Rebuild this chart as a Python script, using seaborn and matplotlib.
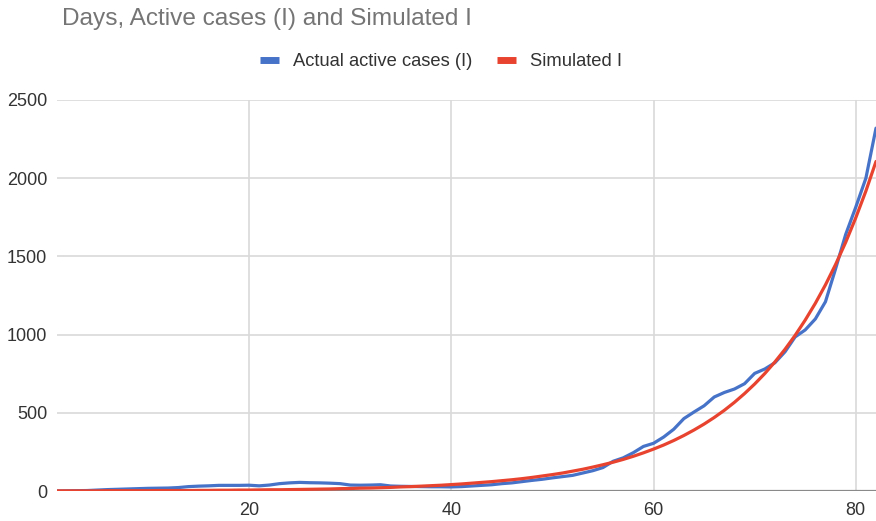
import matplotlib
matplotlib.use("Agg")
import matplotlib.pyplot as plt
from matplotlib.lines import Line2D
import pandas as pd
import seaborn as sns

# Day index and the two series
days = list(range(1, 83))

actual_active = [
    0, 1, 2, 3, 6, 9, 11, 13, 15, 17,
    18, 19, 22, 28, 31, 33, 36, 36, 36, 37,
    33, 38, 47, 52, 55, 53, 52, 50, 47, 38,
    37, 38, 40, 32, 30, 29, 28, 27, 27, 26,
    28, 32, 36, 40, 47, 52, 60, 68, 75, 84,
    92, 100, 115, 130, 150, 190, 212, 245, 285, 305,
    345, 395, 463, 505, 545, 601, 630, 652, 686, 752,
    780, 820, 890, 985, 1030, 1100, 1210, 1420, 1640, 1815,
    2000, 2320,
]

simulated_i = [
    1, 1, 1, 1, 1, 2, 2, 2, 2, 2,
    3, 3, 3, 3, 4, 4, 5, 5, 6, 6,
    7, 8, 8, 9, 10, 11, 12, 13, 15, 16,
    18, 19, 21, 23, 26, 28, 31, 34, 37, 41,
    45, 50, 55, 60, 66, 72, 79, 87, 96, 105,
    115, 127, 139, 153, 168, 184, 202, 222, 244, 268,
    294, 323, 355, 390, 428, 470, 516, 567, 623, 684,
    751, 825, 906, 995, 1093, 1200, 1318, 1448, 1590, 1747,
    1918, 2107,
]

series_names = ["Actual active cases (I)", "Simulated I"]
series_colors = ["#4672C8", "#E8432F"]
title_text = "Days, Active cases (I) and Simulated I"
x_ticks = [20, 40, 60, 80]
y_ticks = [0, 500, 1000, 1500, 2000, 2500]

df = pd.concat([
    pd.DataFrame({"Day": days, "Cases": actual_active, "Series": series_names[0]}),
    pd.DataFrame({"Day": days, "Cases": simulated_i, "Series": series_names[1]}),
], ignore_index=True)

sns.set_theme(style="white")
plt.rcParams["font.family"] = ["Liberation Sans", "DejaVu Sans"]

fig = plt.figure(figsize=(8.76, 5.21), dpi=100)
ax = fig.add_axes([57 / 876, 30 / 521, 819 / 876, 391 / 521])

sns.lineplot(
    data=df, x="Day", y="Cases", hue="Series",
    hue_order=series_names, palette=series_colors,
    linewidth=2.3, legend=False, ax=ax, zorder=3,
)

ax.set_xlim(1, 82)
ax.set_ylim(0, 2500)
ax.set_xticks(x_ticks)
ax.set_yticks(y_ticks)
ax.set_xlabel("")
ax.set_ylabel("")
ax.grid(True, color="#d9d9d9", linewidth=1.2, zorder=0)
ax.axhline(0, color="#8a8a8a", linewidth=1.6, zorder=2)
for s in ax.spines.values():
    s.set_visible(False)
ax.tick_params(axis="both", length=0, labelsize=13, labelcolor="#333333")
ax.tick_params(axis="x", pad=8)
ax.tick_params(axis="y", pad=7)

fig.text(62 / 876, 1 - 19 / 521, title_text, fontsize=17.6,
         color="#757575", ha="left", va="center")

handles = [Line2D([0], [0], color=c, linewidth=5, solid_capstyle="butt")
           for c in series_colors]
fig.legend(handles, series_names, loc="center", bbox_to_anchor=(0.503, 1 - 62 / 521),
           ncol=2, frameon=False, fontsize=13.2, handlelength=1.05,
           handletextpad=0.75, columnspacing=1.35, labelcolor="#333333")

fig.savefig("out.png", dpi=100)
